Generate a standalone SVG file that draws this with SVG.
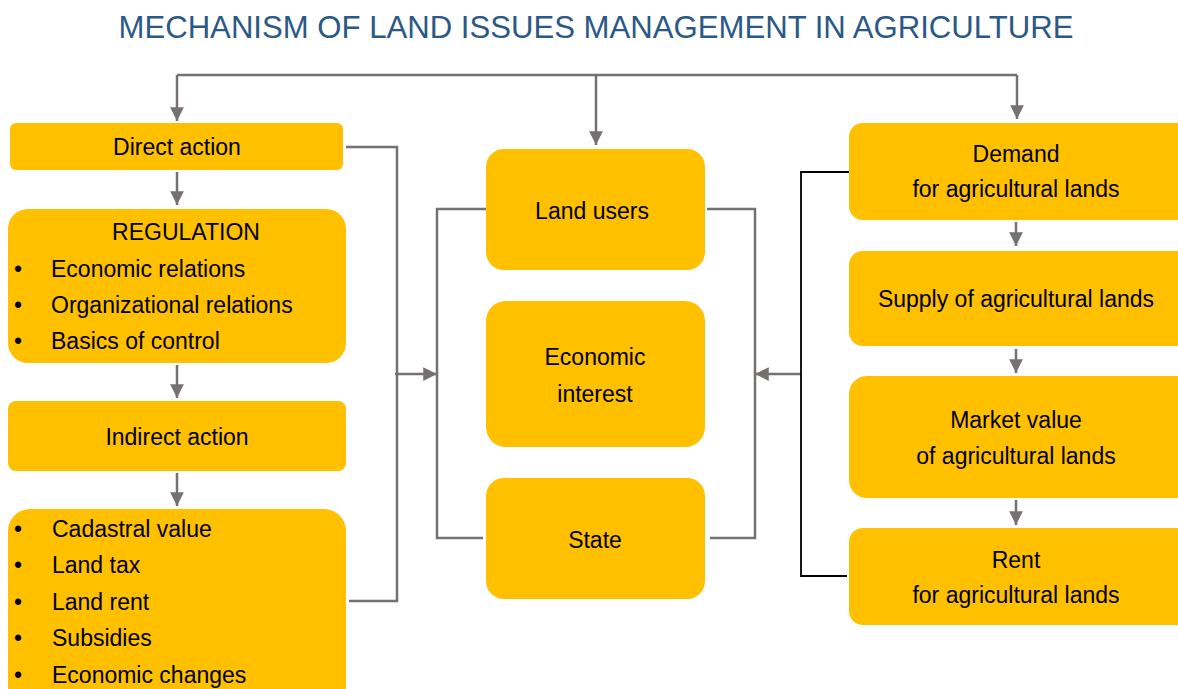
<svg xmlns="http://www.w3.org/2000/svg" width="1178" height="689" viewBox="0 0 1178 689">
<defs>
<style>
.box{fill:#FFC000;}
.t{font-family:"Liberation Sans",Arial,sans-serif;font-size:23px;fill:#000;}
.c{text-anchor:middle;}
.g{fill:none;stroke:#767171;stroke-width:2.5;}
.k{fill:none;stroke:#000;stroke-width:1.8;}
</style>
<marker id="ahs" viewBox="0 0 10 10" refX="10" refY="5" markerWidth="5.5" markerHeight="5.5" orient="auto">
<path d="M0,0 L10,5 L0,10 z" fill="#767171"/>
</marker>
</defs>
<rect width="1178" height="689" fill="#fff"/>
<text x="596" y="38" font-family="Liberation Sans, Arial, sans-serif" font-size="31" fill="#2B5987" text-anchor="middle" textLength="955" lengthAdjust="spacingAndGlyphs">MECHANISM OF LAND ISSUES MANAGEMENT IN AGRICULTURE</text>

<g id="connectors">
<path class="g" d="M177,75 H1017"/>
<path class="g" d="M177,75 V121" marker-end="url(#ahs)"/>
<path class="g" d="M596,75 V145" marker-end="url(#ahs)"/>
<path class="g" d="M1017,75 V119" marker-end="url(#ahs)"/>
<path class="g" d="M177,172 V205" marker-end="url(#ahs)"/>
<path class="g" d="M177,365 V398" marker-end="url(#ahs)"/>
<path class="g" d="M177,473 V506" marker-end="url(#ahs)"/>
<path class="g" d="M346,147 H397 V601 H349"/>
<path class="g" d="M395,374 H437" marker-end="url(#ahs)"/>
<path class="g" d="M486,209 H437 V538 H483"/>
<path class="g" d="M707,209 H755 V538 H710"/>
<path class="g" d="M801,374 H755" marker-end="url(#ahs)"/>
<path class="k" d="M849,172 H801 V576 H847"/>
<path class="g" d="M1016,222 V246" marker-end="url(#ahs)"/>
<path class="g" d="M1016,349 V373" marker-end="url(#ahs)"/>
<path class="g" d="M1016,500 V525" marker-end="url(#ahs)"/>
</g>

<g id="direct-action">
<rect class="box" x="10" y="123" width="333" height="47" rx="6"/>
<text class="t c" x="177" y="155">Direct action</text>
</g>
<g id="regulation">
<rect class="box" x="8" y="209" width="338" height="154" rx="20"/>
<text class="t c" x="186" y="240">REGULATION</text>
<text class="t" x="14" y="277">•</text><text class="t" x="51" y="277">Economic relations</text>
<text class="t" x="14" y="313">•</text><text class="t" x="51" y="313">Organizational relations</text>
<text class="t" x="14" y="349">•</text><text class="t" x="51" y="349">Basics of control</text>
</g>
<g id="indirect-action">
<rect class="box" x="8" y="401" width="338" height="70" rx="8"/>
<text class="t c" x="177" y="445">Indirect action</text>
</g>
<g id="instruments">
<rect class="box" x="8" y="509" width="338" height="200" rx="22"/>
<text class="t" x="14" y="537">•</text><text class="t" x="52" y="537">Cadastral value</text>
<text class="t" x="14" y="573">•</text><text class="t" x="52" y="573">Land tax</text>
<text class="t" x="14" y="610">•</text><text class="t" x="52" y="610">Land rent</text>
<text class="t" x="14" y="646">•</text><text class="t" x="52" y="646">Subsidies</text>
<text class="t" x="14" y="683">•</text><text class="t" x="52" y="683">Economic changes</text>
</g>

<g id="land-users">
<rect class="box" x="486" y="149" width="219" height="121" rx="18"/>
<text class="t c" x="592" y="219">Land users</text>
</g>
<g id="economic-interest">
<rect class="box" x="486" y="301" width="219" height="146" rx="20"/>
<text class="t c" x="595" y="365">Economic</text>
<text class="t c" x="595" y="402">interest</text>
</g>
<g id="state">
<rect class="box" x="486" y="478" width="219" height="121" rx="18"/>
<text class="t c" x="595" y="548">State</text>
</g>

<g id="demand">
<rect class="box" x="849" y="123" width="345" height="97" rx="14"/>
<text class="t c" x="1016" y="162">Demand</text>
<text class="t c" x="1016" y="197">for agricultural lands</text>
</g>
<g id="supply">
<rect class="box" x="849" y="251" width="345" height="95" rx="14"/>
<text class="t c" x="1016" y="307">Supply of agricultural lands</text>
</g>
<g id="market-value">
<rect class="box" x="849" y="376" width="345" height="122" rx="18"/>
<text class="t c" x="1016" y="428">Market value</text>
<text class="t c" x="1016" y="464">of agricultural lands</text>
</g>
<g id="rent">
<rect class="box" x="849" y="528" width="345" height="97" rx="14"/>
<text class="t c" x="1016" y="568">Rent</text>
<text class="t c" x="1016" y="603">for agricultural lands</text>
</g>
</svg>
